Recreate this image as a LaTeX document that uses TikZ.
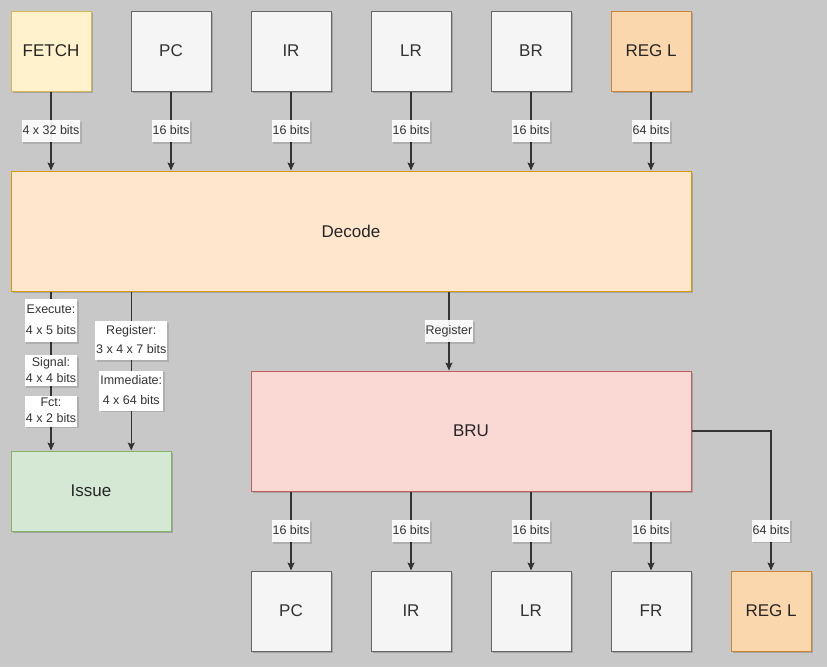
\documentclass[tikz,border=0pt]{standalone}
\usepackage{fontspec}
\setmainfont{Liberation Sans}
\usetikzlibrary{shadows,arrows.meta,calc}
\definecolor{bg}{HTML}{C8C8C8}
\definecolor{grayfill}{HTML}{F5F5F5}
\definecolor{graydraw}{HTML}{666666}
\definecolor{txtgray}{HTML}{333333}
\definecolor{fetchfill}{HTML}{FFF2CC}
\definecolor{fetchdraw}{HTML}{D6B656}
\definecolor{decfill}{HTML}{FFE6CC}
\definecolor{decdraw}{HTML}{D79B00}
\definecolor{issfill}{HTML}{D5E8D4}
\definecolor{issdraw}{HTML}{82B366}
\definecolor{brufill}{HTML}{FAD9D5}
\definecolor{brudraw}{HTML}{C0605A}
\definecolor{regfill}{HTML}{FAD7AC}
\definecolor{regdraw}{HTML}{C98534}
\definecolor{linec}{HTML}{333333}
\tikzset{
  shad/.style={drop shadow={shadow xshift=2pt,shadow yshift=-2pt,fill=black,opacity=0.18}},
  boxbase/.style={draw,line width=1pt,inner sep=0pt,minimum width=80pt,minimum height=80pt,
    font=\fontsize{17}{20}\selectfont,shad},
  graybox/.style={boxbase,fill=grayfill,draw=graydraw,text=txtgray},
  fetchbox/.style={boxbase,fill=fetchfill,draw=fetchdraw,text=black!85},
  regbox/.style={boxbase,fill=regfill,draw=regdraw,text=black!85},
  arr/.style={draw=linec,line width=1.1pt,-{Stealth[length=8pt,width=7pt,inset=1.5pt]}},
  lbl/.style={fill=white,fill opacity=0.92,text opacity=1,text=txtgray,
    font=\fontsize{12.5}{15}\selectfont,inner xsep=1pt,inner ysep=5pt,
    text height=9.5pt,text depth=2.5pt,drop shadow={shadow xshift=1.5pt,shadow yshift=-1.5pt,fill=black,opacity=0.12}},
  mlbl/.style={fill=white,text=txtgray,inner xsep=1pt,align=center,
    font=\fontsize{12.5}{#1}\selectfont,
    drop shadow={shadow xshift=1.5pt,shadow yshift=-1.5pt,fill=black,opacity=0.12}}
}
\newcommand{\topstrut}{\rule{0pt}{9.5pt}}
\newcommand{\botstrut}{\rule[-2.5pt]{0pt}{2.5pt}}
\begin{document}
\begin{tikzpicture}[x=1pt,y=-1pt]
\useasboundingbox[fill=bg] (0,0) rectangle (827,667);

% top row
\node[fetchbox] (fetch) at (51,51) {FETCH};
\node[graybox] (pc) at (171,51) {PC};
\node[graybox] (ir) at (291,51) {IR};
\node[graybox] (lr) at (411,51) {LR};
\node[graybox] (br) at (531,51) {BR};
\node[regbox] (regl) at (651,51) {REG L};

% main blocks
\node[boxbase,fill=decfill,draw=decdraw,text=black!85,minimum width=680pt,minimum height=120pt] (decode) at (351,231) {Decode};
\node[boxbase,fill=issfill,draw=issdraw,text=black!85,minimum width=160pt,minimum height=80pt] (issue) at (91,491) {Issue};
\node[boxbase,fill=brufill,draw=brudraw,text=black!85,minimum width=440pt,minimum height=120pt] (bru) at (471,431) {BRU};

% bottom row
\node[graybox] (pcb) at (291,611) {PC};
\node[graybox] (irb) at (411,611) {IR};
\node[graybox] (lrb) at (531,611) {LR};
\node[graybox] (frb) at (651,611) {FR};
\node[regbox] (reglb) at (771,611) {REG L};

% top connectors
\draw[arr] (fetch) -- (fetch |- decode.north) node[lbl,midway] {4 x 32 bits};
\draw[arr] (pc) -- (pc |- decode.north) node[lbl,midway] {16 bits};
\draw[arr] (ir) -- (ir |- decode.north) node[lbl,midway] {16 bits};
\draw[arr] (lr) -- (lr |- decode.north) node[lbl,midway] {16 bits};
\draw[arr] (br) -- (br |- decode.north) node[lbl,midway] {16 bits};
\draw[arr] (regl) -- (regl |- decode.north) node[lbl,midway] {64 bits};

% decode to issue
\coordinate (iss1) at (issue.north -| fetch);
\coordinate (iss2) at ($(issue.north west)!0.75!(issue.north east)$);
\draw[arr] (decode.south -| iss1) -- (iss1)
  node[mlbl=21,pos=0.184,inner ysep=5pt] {\topstrut Execute:\\4 x 5 bits\botstrut}
  node[mlbl=16,pos=0.497,inner ysep=1.5pt] {\topstrut Signal:\\4 x 4 bits\botstrut}
  node[mlbl=16,pos=0.753,inner ysep=1.5pt] {\topstrut Fct:\\4 x 2 bits\botstrut};
\draw[arr] (decode.south -| iss2) -- (iss2)
  node[mlbl=19,pos=0.309,inner ysep=4pt] {\topstrut Register:\\3 x 4 x 7 bits\botstrut}
  node[mlbl=20,pos=0.625,inner ysep=4pt] {\topstrut Immediate:\\4 x 64 bits\botstrut};

% decode to bru
\coordinate (bruin) at ($(bru.north west)!0.45!(bru.north east)$);
\draw[arr] (decode.south -| bruin) -- (bruin) node[lbl,midway,fill=white] {Register};

% bru to bottom
\draw[arr] (bru.south -| pcb) -- (pcb) node[lbl,midway] {16 bits};
\draw[arr] (bru.south -| irb) -- (irb) node[lbl,midway] {16 bits};
\draw[arr] (bru.south -| lrb) -- (lrb) node[lbl,midway] {16 bits};
\draw[arr] (bru.south -| frb) -- (frb) node[lbl,midway] {16 bits};
\draw[arr] (bru.east) -| (reglb) node[lbl,pos=0.857] {64 bits};
\end{tikzpicture}
\end{document}
